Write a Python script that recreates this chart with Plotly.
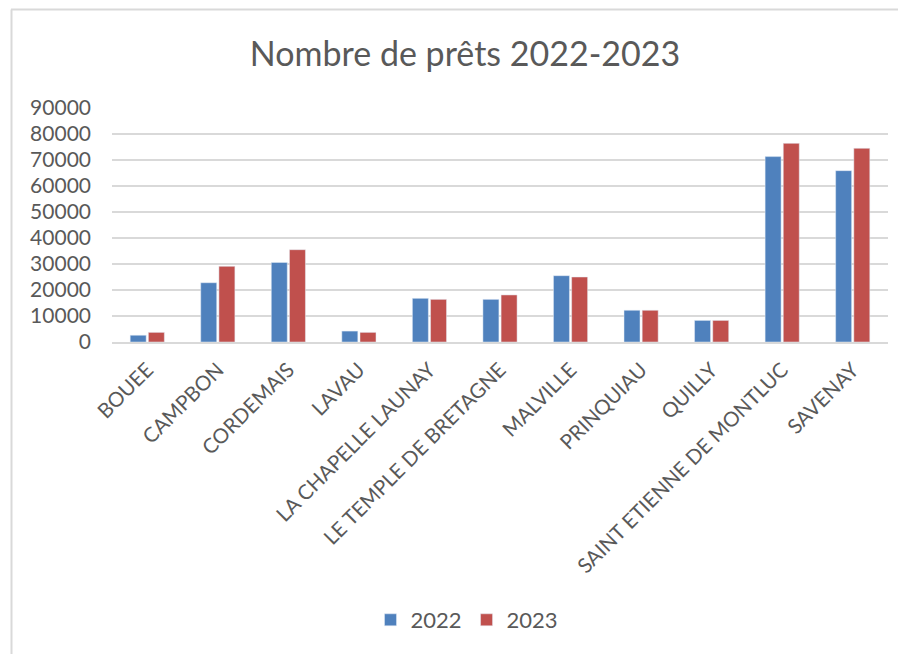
import plotly.graph_objects as go

communes = ["BOUEE", "CAMPBON", "CORDEMAIS", "LAVAU", "LA CHAPELLE LAUNAY",
            "LE TEMPLE DE BRETAGNE", "MALVILLE", "PRINQUIAU", "QUILLY",
            "SAINT ETIENNE DE MONTLUC", "SAVENAY"]
prets_2022 = [2600, 22800, 30600, 4200, 16800, 16400, 25500, 12200, 8300, 71300, 65900]
prets_2023 = [3700, 29100, 35500, 3700, 16400, 18100, 25000, 12200, 8300, 76400, 74500]

W, H = 898, 654
L, R, T, B = 112, 10, 108, 312
font = "Lato"
grey = "#595959"

fig = go.Figure()
fig.add_trace(go.Bar(x=communes, y=prets_2022, name="2022", marker_color="#4F81BD"))
fig.add_trace(go.Bar(x=communes, y=prets_2023, name="2023", marker_color="#C0504D"))

# cadre gris (haut + gauche) du graphique copié d'Excel
pw, ph = W - L - R, H - T - B
def px_x(x): return (x - L) / pw
def px_y(y): return (H - B - y) / ph
line = dict(color="#D9D9D9", width=2)
fig.add_shape(type="line", xref="paper", yref="paper", x0=px_x(11), x1=px_x(898),
              y0=px_y(9.5), y1=px_y(9.5), line=line)
fig.add_shape(type="line", xref="paper", yref="paper", x0=px_x(11.5), x1=px_x(11.5),
              y0=px_y(9.5), y1=px_y(654), line=line)

fig.update_layout(
    width=W, height=H,
    margin=dict(l=L, r=R, t=T, b=B),
    plot_bgcolor="white", paper_bgcolor="white",
    font=dict(family=font, color=grey, size=20),
    title=dict(text="Nombre de prêts 2022-2023", x=465 / W, xanchor="center",
               y=1 - 54 / H, yanchor="middle", font=dict(size=34, color=grey)),
    barmode="group", bargap=0.485, bargroupgap=0.12,
    legend=dict(orientation="h", xref="container", yref="container",
                x=467 / W, xanchor="center", y=1 - 620 / H, yanchor="middle",
                font=dict(size=22), itemwidth=30),
    showlegend=True,
)
fig.update_yaxes(range=[0, 90000], dtick=10000, tickformat="d", showgrid=True,
                 gridcolor="#D9D9D9", gridwidth=1.5, zeroline=False,
                 ticklabelstandoff=20, tickfont=dict(size=21))
fig.update_xaxes(tickangle=-45, showline=True, linecolor="#D9D9D9", linewidth=1.5,
                 tickfont=dict(size=20.5), ticklabelstandoff=6)

fig.write_html("out.html", config={"displayModeBar": False},
               post_script="document.body.style.margin='0';")
